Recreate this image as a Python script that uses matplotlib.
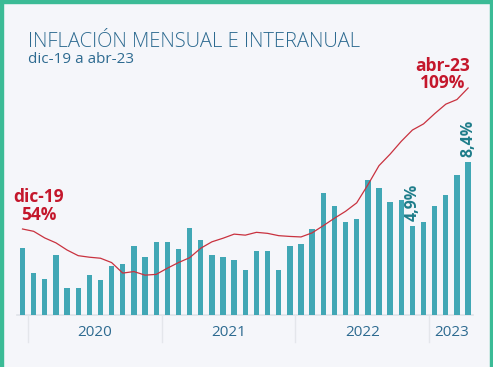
import matplotlib
matplotlib.use("Agg")
import matplotlib.pyplot as plt
from matplotlib.patches import Rectangle

plt.rcParams['font.family'] = ['Open Sans', 'DejaVu Sans']

months = ["dic-19",
          "ene-20", "feb-20", "mar-20", "abr-20", "may-20", "jun-20", "jul-20", "ago-20", "sep-20", "oct-20", "nov-20", "dic-20",
          "ene-21", "feb-21", "mar-21", "abr-21", "may-21", "jun-21", "jul-21", "ago-21", "sep-21", "oct-21", "nov-21", "dic-21",
          "ene-22", "feb-22", "mar-22", "abr-22", "may-22", "jun-22", "jul-22", "ago-22", "sep-22", "oct-22", "nov-22", "dic-22",
          "ene-23", "feb-23", "mar-23", "abr-23"]
mensual = [3.7,
           2.3, 2.0, 3.3, 1.5, 1.5, 2.2, 1.9, 2.7, 2.8, 3.8, 3.2, 4.0,
           4.0, 3.6, 4.8, 4.1, 3.3, 3.2, 3.0, 2.5, 3.5, 3.5, 2.5, 3.8,
           3.9, 4.7, 6.7, 6.0, 5.1, 5.3, 7.4, 7.0, 6.2, 6.3, 4.9, 5.1,
           6.0, 6.6, 7.7, 8.4]
interanual = [53.8,
              52.9, 50.3, 48.4, 45.6, 43.4, 42.8, 42.4, 40.7, 36.6, 37.2, 35.8, 36.1,
              38.5, 40.7, 42.6, 46.3, 48.8, 50.2, 51.8, 51.4, 52.5, 52.1, 51.2, 50.9,
              50.7, 52.3, 55.1, 58.0, 60.7, 64.0, 71.0, 78.5, 83.0, 88.0, 92.4, 94.8,
              98.8, 102.5, 104.3, 108.8]
years = ["2020", "2021", "2022", "2023"]
year_spans = [(1, 12), (13, 24), (25, 36), (37, 40)]

W, H = 493, 367
bg = "#f5f6fa"
bar_c = "#41a7b5"
red = "#c4172c"
line_c = "#c9323f"
blue_txt = "#2d6a90"
teal_txt = "#1e7d8a"

fig = plt.figure(figsize=(W / 100, H / 100), dpi=100, facecolor=bg)
ax = fig.add_axes([0, 0, 1, 1])
ax.set_facecolor("none")
x = list(range(len(mensual)))
ppu = 11.14
ax.set_xlim(-22.5 / ppu, (W - 22.5) / ppu)
base_px = 52
sy = 18.2
ax.set_ylim(-base_px / sy, (H - base_px) / sy)
ax.bar(x, mensual, width=0.48, color=bar_c, zorder=2)
ax.plot([-0.45, len(x) - 0.6], [0, 0], color="#dfe2e8", lw=1.2, zorder=1)
for s in [0.5, 12.5, 24.5, 36.5]:
    ax.plot([s, s], [0, -27 / sy], color="#e4e6eb", lw=1, zorder=1)
for yl, (a, b) in zip(years, year_spans):
    ax.text((a + b) / 2, -18 / sy, yl, ha="center", va="center",
            fontsize=11, color=blue_txt)
ax.axis("off")

ax2 = fig.add_axes([0, 0, 1, 1], sharex=ax)
ax2.set_facecolor("none")
sl = 141 / 55
ax2.set_ylim(53.8 - 138 / sl, 53.8 - 138 / sl + H / sl)
ax2.plot(x, interanual, color=line_c, lw=0.9, zorder=3)
ax2.axis("off")

# labels
ax.text(len(x) - 1, 8.4 + 5 / sy, "8,4%", rotation=90, ha="center", va="bottom",
        fontsize=11.5, fontweight="bold", color=teal_txt)
ax.text(35, 4.9 + 5 / sy, "4,9%", rotation=90, ha="center", va="bottom",
        fontsize=11.5, fontweight="bold", color=teal_txt)

def fy(px):
    return (H - px) / H

fig.text(39 / W, fy(202), "dic-19", ha="center", va="baseline",
         fontsize=12.5, fontweight="bold", color=red)
fig.text(39 / W, fy(220), "54%", ha="center", va="baseline",
         fontsize=12.5, fontweight="bold", color=red)
fig.text(443 / W, fy(71), "abr-23", ha="center", va="baseline",
         fontsize=12.5, fontweight="bold", color=red)
fig.text(443 / W, fy(87.5), "109%", ha="center", va="baseline",
         fontsize=12.5, fontweight="bold", color=red)

fig.text(28 / W, fy(47), "INFLACIÓN MENSUAL E INTERANUAL", ha="left", va="baseline",
         fontsize=14.5, fontweight="light", color=blue_txt)
fig.text(28 / W, fy(63), "dic-19 a abr-23", ha="left", va="baseline",
         fontsize=11, color=blue_txt)

# border
border = "#3bbb96"
fig.patches.append(Rectangle((0, 0), 2.5 / W, 1, transform=fig.transFigure, color=border, zorder=10))
fig.patches.append(Rectangle((1 - 3.5 / W, 0), 3.5 / W, 1, transform=fig.transFigure, color=border, zorder=10))
fig.patches.append(Rectangle((0, 1 - 2.5 / H), 1, 2.5 / H, transform=fig.transFigure, color=border, zorder=10))

fig.savefig("out.png", dpi=100, facecolor=bg)
